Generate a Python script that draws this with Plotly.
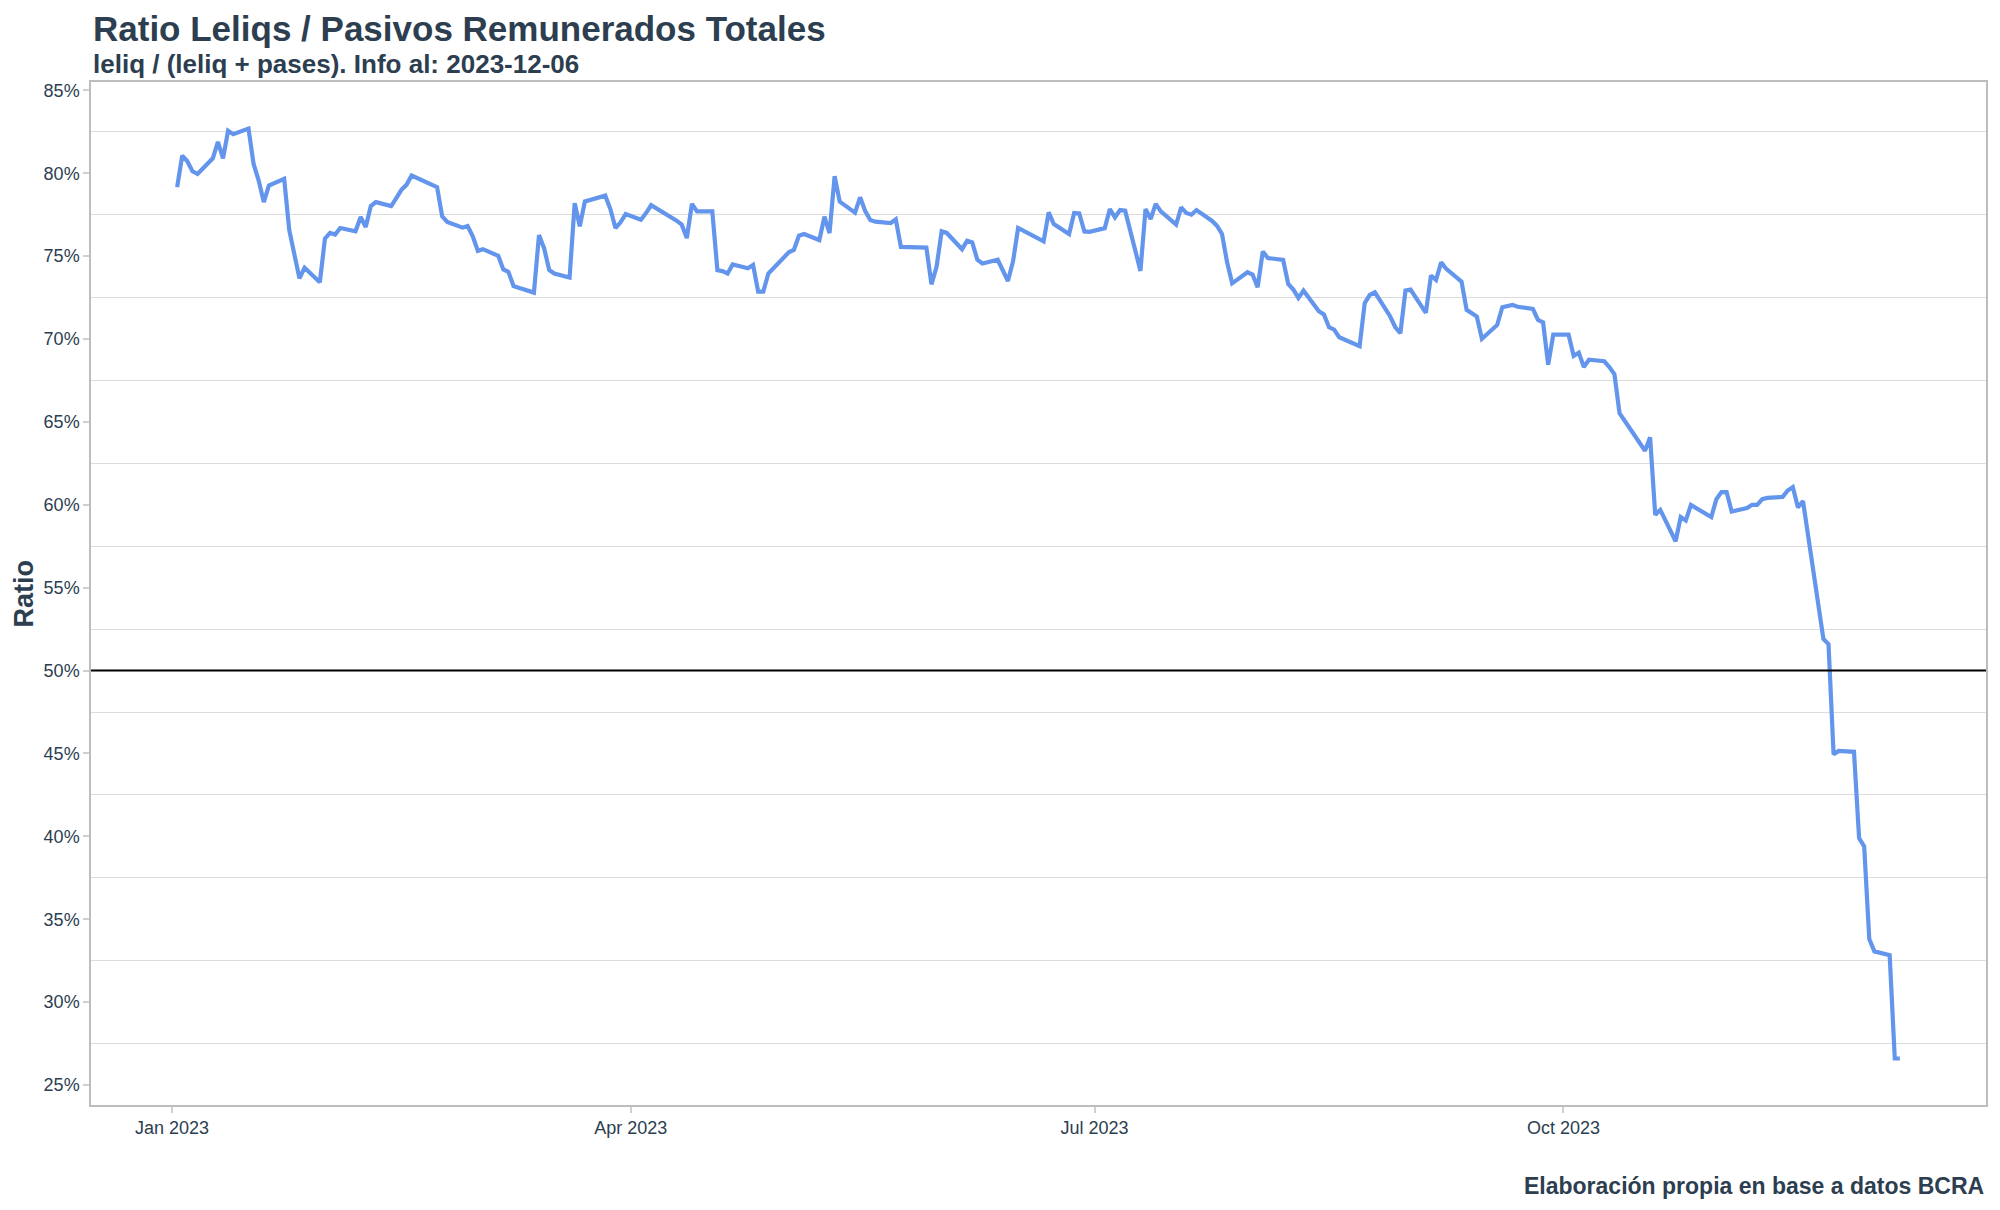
import pandas as pd
import plotly.graph_objects as go

dates = [
    "2023-01-02", "2023-01-03", "2023-01-04", "2023-01-05", "2023-01-06",
    "2023-01-09", "2023-01-10", "2023-01-11", "2023-01-12", "2023-01-13",
    "2023-01-16", "2023-01-17", "2023-01-18", "2023-01-19", "2023-01-20",
    "2023-01-23", "2023-01-24", "2023-01-25", "2023-01-26", "2023-01-27",
    "2023-01-30", "2023-01-31",
    "2023-02-01", "2023-02-02", "2023-02-03", "2023-02-06", "2023-02-07",
    "2023-02-08", "2023-02-09", "2023-02-10", "2023-02-13", "2023-02-14",
    "2023-02-15", "2023-02-16", "2023-02-17", "2023-02-22", "2023-02-23",
    "2023-02-24", "2023-02-27", "2023-02-28",
    "2023-03-01", "2023-03-02", "2023-03-03", "2023-03-06", "2023-03-07",
    "2023-03-08", "2023-03-09", "2023-03-10", "2023-03-13", "2023-03-14",
    "2023-03-15", "2023-03-16", "2023-03-17", "2023-03-20", "2023-03-21",
    "2023-03-22", "2023-03-23", "2023-03-27", "2023-03-28", "2023-03-29",
    "2023-03-30", "2023-03-31",
    "2023-04-03", "2023-04-04", "2023-04-05", "2023-04-10", "2023-04-11",
    "2023-04-12", "2023-04-13", "2023-04-14", "2023-04-17", "2023-04-18",
    "2023-04-19", "2023-04-20", "2023-04-21", "2023-04-24", "2023-04-25",
    "2023-04-26", "2023-04-27", "2023-04-28",
    "2023-05-02", "2023-05-03", "2023-05-04", "2023-05-05", "2023-05-08",
    "2023-05-09", "2023-05-10", "2023-05-11", "2023-05-12", "2023-05-15",
    "2023-05-16", "2023-05-17", "2023-05-18", "2023-05-19", "2023-05-22",
    "2023-05-23", "2023-05-24", "2023-05-29", "2023-05-30", "2023-05-31",
    "2023-06-01", "2023-06-02", "2023-06-05", "2023-06-06", "2023-06-07",
    "2023-06-08", "2023-06-09", "2023-06-12", "2023-06-13", "2023-06-14",
    "2023-06-15", "2023-06-16", "2023-06-21", "2023-06-22", "2023-06-23",
    "2023-06-26", "2023-06-27", "2023-06-28", "2023-06-29", "2023-06-30",
    "2023-07-03", "2023-07-04", "2023-07-05", "2023-07-06", "2023-07-07",
    "2023-07-10", "2023-07-11", "2023-07-12", "2023-07-13", "2023-07-14",
    "2023-07-17", "2023-07-18", "2023-07-19", "2023-07-20", "2023-07-21",
    "2023-07-24", "2023-07-25", "2023-07-26", "2023-07-27", "2023-07-28",
    "2023-07-31",
    "2023-08-01", "2023-08-02", "2023-08-03", "2023-08-04", "2023-08-07",
    "2023-08-08", "2023-08-09", "2023-08-10", "2023-08-11", "2023-08-14",
    "2023-08-15", "2023-08-16", "2023-08-17", "2023-08-18", "2023-08-22",
    "2023-08-23", "2023-08-24", "2023-08-25", "2023-08-28", "2023-08-29",
    "2023-08-30", "2023-08-31",
    "2023-09-01", "2023-09-04", "2023-09-05", "2023-09-06", "2023-09-07",
    "2023-09-08", "2023-09-11", "2023-09-12", "2023-09-13", "2023-09-14",
    "2023-09-15", "2023-09-18", "2023-09-19", "2023-09-20", "2023-09-21",
    "2023-09-22", "2023-09-25", "2023-09-26", "2023-09-27", "2023-09-28",
    "2023-09-29",
    "2023-10-02", "2023-10-03", "2023-10-04", "2023-10-05", "2023-10-06",
    "2023-10-09", "2023-10-10", "2023-10-11", "2023-10-12", "2023-10-17",
    "2023-10-18", "2023-10-19", "2023-10-20", "2023-10-23", "2023-10-24",
    "2023-10-25", "2023-10-26", "2023-10-27", "2023-10-30", "2023-10-31",
    "2023-11-01", "2023-11-02", "2023-11-03", "2023-11-06", "2023-11-07",
    "2023-11-08", "2023-11-09", "2023-11-10", "2023-11-13", "2023-11-14",
    "2023-11-15", "2023-11-16", "2023-11-17", "2023-11-21", "2023-11-22",
    "2023-11-23", "2023-11-24", "2023-11-27", "2023-11-28", "2023-11-29",
    "2023-11-30",
    "2023-12-01", "2023-12-04", "2023-12-05", "2023-12-06",
]

ratio_pct = [
    79.16, 81.06, 80.72, 80.12, 79.96,
    80.90, 81.90, 80.90, 82.56, 82.36,
    82.70, 80.56, 79.56, 78.26, 79.26,
    79.66, 76.56, 75.20, 73.66, 74.30,
    73.42, 76.06,
    76.40, 76.30, 76.70, 76.50, 77.36,
    76.76, 78.02, 78.26, 78.02, 78.50,
    79.00, 79.30, 79.86, 79.16, 77.40,
    77.06, 76.72, 76.82,
    76.20, 75.32, 75.42, 75.02, 74.20,
    74.05, 73.20, 73.10, 72.80, 76.27,
    75.48, 74.17, 73.95, 73.71, 78.19,
    76.80, 78.30, 78.65, 77.84, 76.70,
    77.04, 77.54,
    77.20, 77.60, 78.08, 77.14, 76.90,
    76.09, 78.15, 77.70, 77.70, 74.15,
    74.10, 73.95, 74.50, 74.27, 74.47,
    72.86, 72.86, 73.95,
    75.23, 75.37, 76.23, 76.33, 75.97,
    77.38, 76.39, 79.82, 78.29, 77.62,
    78.55, 77.72, 77.18, 77.08, 77.00,
    77.22, 75.56, 75.52, 73.30, 74.35,
    76.50, 76.40, 75.42, 75.93, 75.83,
    74.78, 74.56, 74.78, 74.20, 73.50,
    74.68, 76.70, 75.89, 77.64, 76.94,
    76.33, 77.60, 77.58, 76.49, 76.47,
    76.69, 77.84, 77.34, 77.78, 77.74,
    74.11, 77.84, 77.24, 78.15, 77.70,
    76.90, 77.94, 77.60, 77.50, 77.78,
    77.14, 76.84, 76.34, 74.63, 73.36,
    74.03,
    73.89, 73.12, 75.27, 74.89, 74.77,
    73.32, 72.98, 72.48, 72.92, 71.68,
    71.48, 70.71, 70.57, 70.11, 69.57,
    72.16, 72.66, 72.82, 71.36, 70.71,
    70.35, 72.92,
    72.98, 71.58, 73.83, 73.56, 74.63,
    74.23, 73.46, 71.76, 71.52, 71.36,
    70.01, 70.85, 71.92, 72.02, 72.06,
    71.95, 71.82, 71.15, 71.00, 68.45,
    70.26,
    70.26, 68.98, 69.18, 68.31, 68.75,
    68.66, 68.31, 67.87, 65.53, 63.26,
    64.07, 59.40, 59.69, 57.80, 59.26,
    59.05, 59.99, 59.80, 59.26, 60.34,
    60.77, 60.77, 59.60, 59.80, 60.00,
    60.00, 60.34, 60.42, 60.48, 60.86,
    61.07, 59.84, 60.22, 51.90, 51.60,
    44.95, 45.15, 45.10, 39.90, 39.40,
    33.80,
    33.06, 32.83, 26.60, 26.60,
]

y_ticks = [25, 30, 35, 40, 45, 50, 55, 60, 65, 70, 75, 80, 85]
y_grid = [27.5, 32.5, 37.5, 42.5, 47.5, 52.5, 57.5, 62.5, 67.5, 72.5, 77.5, 82.5]
x_ticks = ["2023-01-01", "2023-04-01", "2023-07-01", "2023-10-01"]
x_tick_labels = ["Jan 2023", "Apr 2023", "Jul 2023", "Oct 2023"]
reference_level = 50

title_text = "Ratio Leliqs / Pasivos Remunerados Totales"
subtitle_text = "leliq / (leliq + pases). Info al: 2023-12-06"
caption_text = "Elaboración propia en base a datos BCRA"
y_title = "Ratio"

TEXT = "#2C3E50"
FONT = "Liberation Sans, Arial, Helvetica, sans-serif"

# ggplot-like 5% expansion
xd = pd.to_datetime(dates)
xspan = xd.max() - xd.min()
x_range = [xd.min() - 0.05 * xspan, xd.max() + 0.05 * xspan]
ymin, ymax = min(ratio_pct), max(ratio_pct)
ypad = 0.05 * (ymax - ymin)
y_range = [ymin - ypad, ymax + ypad]

fig = go.Figure()
fig.add_trace(go.Scatter(
    x=dates, y=ratio_pct, mode="lines",
    line=dict(color="#6495ED", width=4.2),
    showlegend=False,
))
fig.add_hline(y=reference_level, line=dict(color="black", width=2))

W, H = 2000, 1210
ml, mr, mt, mb = 83, 22, 74, 113
pw, ph = W - ml - mr, H - mt - mb

fig.update_layout(
    width=W, height=H,
    margin=dict(l=ml, r=mr, t=mt, b=mb, pad=0),
    paper_bgcolor="white", plot_bgcolor="white",
    font=dict(family=FONT, color=TEXT, size=18),
    showlegend=False,
)

fig.update_xaxes(
    range=x_range,
    tickvals=x_ticks, ticktext=x_tick_labels,
    showgrid=False, zeroline=False,
    showline=True, mirror=True, linecolor="#BDBDBD", linewidth=1.5,
    ticks="outside", ticklen=6, tickcolor="#D0D0D0", tickwidth=1.5,
    tickfont=dict(size=18, color=TEXT, family=FONT),
)
fig.update_yaxes(
    range=y_range,
    tickvals=y_ticks, ticktext=[f"{v}%" for v in y_ticks],
    showgrid=False, zeroline=False,
    showline=True, mirror=True, linecolor="#BDBDBD", linewidth=1.5,
    ticks="outside", ticklen=6, tickcolor="#D0D0D0", tickwidth=1.5,
    tickfont=dict(size=18, color=TEXT, family=FONT),
    minor=dict(tickvals=y_grid, showgrid=True, gridcolor="#DCDCDC", gridwidth=1.3, ticks=""),
)

annotations = [
    dict(text=f"<b>{title_text}</b>", xref="paper", yref="paper",
         x=0, y=1 + 54 / ph, xanchor="left", yanchor="middle", showarrow=False,
         font=dict(size=35, color=TEXT, family=FONT)),
    dict(text=f"<b>{subtitle_text}</b>", xref="paper", yref="paper",
         x=0, y=1 + 18 / ph, xanchor="left", yanchor="middle", showarrow=False,
         font=dict(size=26, color=TEXT, family=FONT)),
    dict(text=f"<b>{caption_text}</b>", xref="paper", yref="paper",
         x=1, y=-81 / ph, xanchor="right", yanchor="middle", showarrow=False,
         font=dict(size=23, color=TEXT, family=FONT)),
    dict(text=f"<b>{y_title}</b>", xref="paper", yref="paper",
         x=-68 / pw, y=0.5, xanchor="center", yanchor="middle", showarrow=False,
         textangle=-90, font=dict(size=27, color=TEXT, family=FONT)),
]
fig.update_layout(annotations=annotations)

fig.write_html("out.html")
